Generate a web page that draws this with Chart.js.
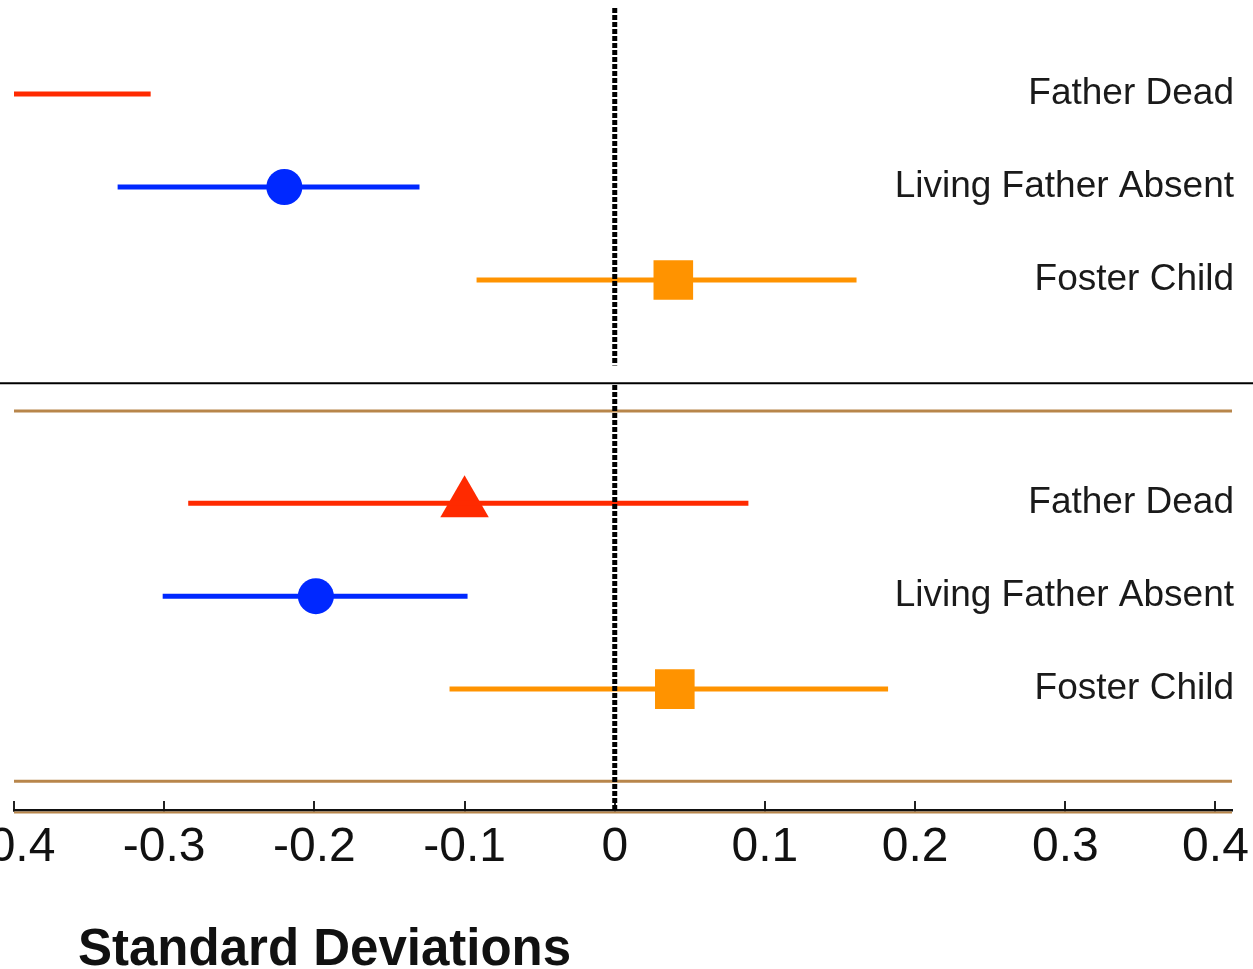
<!DOCTYPE html>
<html lang="en">
<head>
    <meta charset="UTF-8">
    <title>Standard Deviations</title>
    <script src="https://cdn.jsdelivr.net/npm/chart.js@4.4.1/dist/chart.umd.min.js"></script>
    <style>
        body{ margin:0; background:#fff; }
        #board{ width:1253px; height:969px; }
    </style>
</head>
<body>
    <div id="board">
        <canvas id="chart1" width="1253" height="969"></canvas>
    </div>
<script>
    // data
    const categories = ['Father Dead', 'Living Father Absent', 'Foster Child'];
    const estTop    = [-0.46, -0.220, 0.039];
    const lowTop    = [-0.61, -0.331, -0.092];
    const highTop   = [-0.309, -0.130, 0.161];
    const estBottom  = [-0.100, -0.199, 0.040];
    const lowBottom  = [-0.284, -0.301, -0.110];
    const highBottom = [0.089, -0.098, 0.182];
    const xTicks = [-0.4, -0.3, -0.2, -0.1, 0, 0.1, 0.2, 0.3, 0.4];
    const axisTitle = 'Standard Deviations';

    const colors = ['#ff2a00', '#0028ff', '#ff9300'];
    const markers = [
        {style:'triangle', r:28},
        {style:'circle', r:18},
        {style:'rect', r:28}
    ];
    const panelGap = 4.4;   // bottom panel rows sit this far below the top ones
    const panels = [
        {est:estTop, low:lowTop, high:highTop},
        {est:estBottom, low:lowBottom, high:highBottom}
    ];

    const rows = [];
    const datasets = [];
    panels.forEach((p, pi) => {
        categories.forEach((c, i) => {
            const row = 1 + i + pi * panelGap;
            rows.push({value:row, label:c});
            datasets.push({
                data:[{x:p.low[i], y:row}, {x:p.high[i], y:row}],
                showLine:true,
                borderColor:colors[i],
                borderWidth:5,
                pointRadius:0
            });
            datasets.push({
                data:[{x:p.est[i], y:row}],
                pointStyle:markers[i].style,
                pointRadius:markers[i].r,
                backgroundColor:colors[i],
                borderWidth:0
            });
        });
    });

    const decor = {
        id:'decor',
        beforeDatasetsDraw(chart){
            const {ctx, chartArea:a, scales:{x, y}} = chart;
            ctx.save();
            // brown panel frames
            ctx.strokeStyle = '#b8864b';
            ctx.lineWidth = 3;
            [4.41, 8.39].forEach(v => {
                const py = y.getPixelForValue(v);
                ctx.beginPath(); ctx.moveTo(a.left, py); ctx.lineTo(a.right, py); ctx.stroke();
            });
            ctx.lineWidth = 2;
            ctx.beginPath(); ctx.moveTo(a.left, a.bottom + 2.5); ctx.lineTo(a.right, a.bottom + 2.5); ctx.stroke();
            // black separator between panels
            ctx.strokeStyle = '#000';
            ctx.lineWidth = 2;
            const sy = y.getPixelForValue(4.11);
            ctx.beginPath(); ctx.moveTo(0, sy); ctx.lineTo(chart.width, sy); ctx.stroke();
            ctx.restore();
        },
        afterDatasetsDraw(chart){
            const {ctx, chartArea:a, scales:{x, y}} = chart;
            const px = x.getPixelForValue(0);
            ctx.save();
            ctx.strokeStyle = '#000';
            ctx.lineWidth = 5;
            ctx.setLineDash([5, 2]);
            [[a.top, y.getPixelForValue(3.92)], [y.getPixelForValue(4.13), a.bottom]].forEach(([y1, y2]) => {
                ctx.beginPath(); ctx.moveTo(px, y1); ctx.lineTo(px, y2); ctx.stroke();
            });
            ctx.restore();
        },
        afterDraw(chart){
            const ctx = chart.ctx;
            ctx.save();
            ctx.fillStyle = '#111';
            ctx.font = 'bold 51px "Liberation Sans", Arial, sans-serif';
            ctx.textAlign = 'left';
            ctx.textBaseline = 'alphabetic';
            ctx.fillText(axisTitle, 78, 965);
            ctx.restore();
        }
    };

    new Chart(document.getElementById('chart1'), {
        type:'scatter',
        data:{ datasets:datasets },
        plugins:[decor],
        options:{
            responsive:false,
            animation:false,
            layout:{ autoPadding:false, padding:{left:14, right:21, top:8, bottom:59} },
            plugins:{ legend:{display:false}, tooltip:{enabled:false} },
            scales:{
                x:{
                    type:'linear',
                    min:-0.4,
                    max:0.411,
                    afterBuildTicks: s => { s.ticks = xTicks.map(v => ({value:v})); },
                    afterFit: s => { s.height = 100; s.paddingLeft = 0; s.paddingRight = 0; },
                    ticks:{
                        padding:18,
                        autoSkip:false,
                        maxRotation:0,
                        color:'#111',
                        font:{family:'"Liberation Sans", Arial, sans-serif', size:48},
                        callback: v => String(Math.round(v * 10) / 10)
                    },
                    grid:{ drawOnChartArea:false, tickLength:-9, color:'#222', lineWidth:2 },
                    border:{ color:'#111', width:2.5 }
                },
                y:{
                    type:'linear',
                    position:'right',
                    reverse:true,
                    min:0.075,
                    max:8.7,
                    afterBuildTicks: s => { s.ticks = rows.map(r => ({value:r.value})); },
                    afterFit: s => { s.width = 0; s.paddingTop = 0; s.paddingBottom = 0; },
                    ticks:{
                        mirror:true,
                        padding:2,
                        color:'#1a1a1a',
                        font:{family:'"Liberation Sans", Arial, sans-serif', size:37},
                        callback: v => { const r = rows.find(o => Math.abs(o.value - v) < 1e-6); return r ? r.label : ''; }
                    },
                    grid:{ display:false, drawTicks:false },
                    border:{ display:false }
                }
            }
        }
    });
</script>
</body>
</html>
